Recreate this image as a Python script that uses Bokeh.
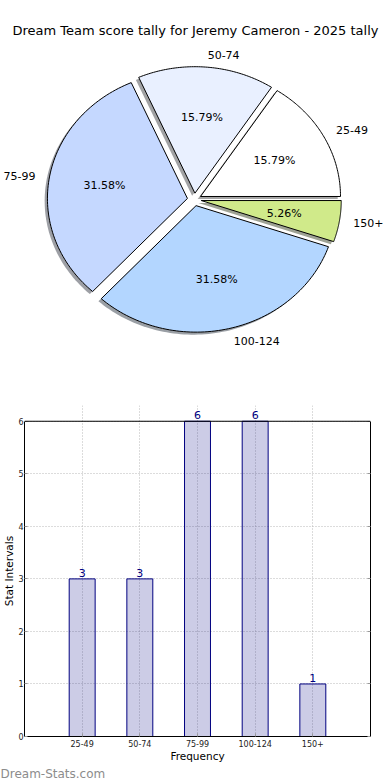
import numpy as np
from bokeh.plotting import figure
from bokeh.models import (ColumnDataSource, Range1d, FactorRange, Label, FixedTicker,
                          LinearAxis, Span, Title)
from bokeh.core.properties import value, field
from bokeh.embed import file_html
from bokeh.resources import INLINE

# ---------------- data ----------------
title_text = "Dream Team score tally for Jeremy Cameron - 2025 tally"
categories = ["25-49", "50-74", "75-99", "100-124", "150+"]
counts = [3, 3, 6, 6, 1]
pie_colors = ["#ffffff", "#e9f0ff", "#c5d8ff", "#b3d6ff", "#d0ea8a"]
y_ticks = [0, 1, 2, 3, 4, 5, 6]
y_max = 6
x_axis_label = "Frequency"
y_axis_label = "Stat Intervals"
watermark = "Dream-Stats.com"

FONT = "DejaVu Sans"
W = 390
PIE_H = 384
BAR_H = 396

# ---------------- pie ----------------
explode = 0.05
cx_px, cy_px = 193.85, 199.0      # pie centre in the canvas
rx_px, ry_px = 140.0, 126.5       # pixels per unit (elliptical pie)

p1 = figure(width=W, height=PIE_H, output_backend="svg", toolbar_location=None,
            title=None,
            x_range=Range1d(-cx_px / rx_px, (W - cx_px) / rx_px),
            y_range=Range1d(-(PIE_H - cy_px) / ry_px, cy_px / ry_px),
            min_border=0, min_border_left=0, min_border_right=0,
            min_border_top=0, min_border_bottom=0)
p1.axis.visible = False
p1.grid.visible = False
p1.outline_line_color = None

total = float(sum(counts))
fr = np.array(counts) / total
cum = np.concatenate([[0.0], np.cumsum(fr)]) * 360.0

xs, ys, fills, falphas, lalphas = [], [], [], [], []
lab_x, lab_y, lab_t, lab_a = [], [], [], []
pct_x, pct_y, pct_t = [], [], []

def hex_to_rgb(h):
    h = h.lstrip("#")
    return tuple(int(h[i:i + 2], 16) for i in (0, 2, 4))

for i, c in enumerate(categories):
    t1, t2 = cum[i], cum[i + 1]
    mid = np.deg2rad((t1 + t2) / 2)
    ox, oy = explode * np.cos(mid), explode * np.sin(mid)
    th = np.deg2rad(np.linspace(t1, t2, 80))
    px = np.concatenate([[ox], ox + np.cos(th), [ox]])
    py = np.concatenate([[oy], oy + np.sin(th), [oy]])
    # shadow
    r, g, b = hex_to_rgb(pie_colors[i])
    xs.append(list(px - 0.02)); ys.append(list(py - 0.02))
    fills.append("#%02x%02x%02x" % (int(r * 0.3), int(g * 0.3), int(b * 0.3)))
    falphas.append(0.5); lalphas.append(0.0)
    # wedge
    xs.append(list(px)); ys.append(list(py))
    fills.append(pie_colors[i]); falphas.append(1.0); lalphas.append(1.0)
    # labels
    lx = ox + 1.1 * np.cos(mid)
    ly = oy + 1.1 * np.sin(mid)
    lab_x.append(lx); lab_y.append(ly); lab_t.append(c)
    lab_a.append("left" if lx > 0 else "right")
    pct_x.append(ox + 0.6 * np.cos(mid)); pct_y.append(oy + 0.6 * np.sin(mid))
    pct_t.append("%1.2f%%" % (fr[i] * 100))

pie_src = ColumnDataSource(dict(xs=xs, ys=ys, fill=fills, fa=falphas, la=lalphas))
p1.patches("xs", "ys", source=pie_src, fill_color="fill", fill_alpha="fa",
           line_color="black", line_alpha="la", line_width=1)

lab_src = ColumnDataSource(dict(x=lab_x, y=lab_y, t=lab_t, a=lab_a))
p1.text("x", "y", text="t", source=lab_src, text_align=field("a"),
        text_baseline="middle", text_font=value(FONT), text_font_size="11px",
        text_color="black")
pct_src = ColumnDataSource(dict(x=pct_x, y=pct_y, t=pct_t))
p1.text("x", "y", text="t", source=pct_src, text_align="center",
        text_baseline="middle", text_font=value(FONT), text_font_size="11px",
        text_color="black")

p1.add_layout(Label(x=(195 - cx_px) / rx_px, y=(cy_px - 30) / ry_px, text=title_text,
                    text_align="center", text_baseline="middle",
                    text_font=FONT, text_font_size="13px", text_color="black"))

# ---------------- bars ----------------
p2 = figure(width=W, height=BAR_H, output_backend="svg", toolbar_location=None,
            title=None,
            x_range=FactorRange(*categories, range_padding=0.5, range_padding_units="absolute"),
            y_range=Range1d(0, 6.3),
            min_border_left=0, min_border_right=20, min_border_top=21, min_border_bottom=38)
bar_src = ColumnDataSource(dict(cat=categories, n=counts))
p2.vbar(x="cat", top="n", width=0.45, source=bar_src, fill_color="#000080",
        fill_alpha=0.2, line_color="#000080", line_width=1)
for i, n in enumerate(counts):
    p2.add_layout(Label(x=i + 0.5, y=n, text=str(n), y_offset=2,
                        text_align="center", text_baseline="bottom", text_font=FONT,
                        text_font_size="11px", text_color="#000080"))

p2.outline_line_color = None
for g in (p2.xgrid, p2.ygrid):
    g.grid_line_color = "#b8b8b8"
    g.grid_line_dash = "1 2"
    g.grid_line_width = 1
p2.xgrid.bounds = (0, y_max)
p2.yaxis.ticker = FixedTicker(ticks=y_ticks)
p2.yaxis.bounds = (0, y_max)
right_axis = LinearAxis(ticker=FixedTicker(ticks=y_ticks), bounds=(0, y_max),
                        major_label_overrides={t: "" for t in y_ticks},
                        major_label_text_color=None, major_label_standoff=0,
                        major_tick_in=3, major_tick_out=0, minor_tick_line_color=None,
                        major_tick_line_color="#999999", axis_line_color="black")
p2.add_layout(right_axis, "right")
p2.add_layout(Span(location=y_max, dimension="width", line_color="black", line_width=1))

for ax in (p2.xaxis, p2.yaxis):
    ax.major_label_text_font = FONT
    ax.major_label_text_font_size = "8px"
    ax.major_label_text_color = "#222222"
    ax.axis_label_text_font = FONT
    ax.axis_label_text_font_size = "10.5px"
    ax.axis_label_text_font_style = "normal"
    ax.axis_label_text_color = "black"
    ax.axis_label_standoff = 0
    ax.major_label_standoff = 3
    ax.major_tick_out = 0
    ax.major_tick_in = 3
    ax.major_tick_line_color = "#999999"
    ax.minor_tick_line_color = None
    ax.axis_line_color = "black"
p2.yaxis[0].major_label_standoff = 1
p2.xaxis.axis_label = x_axis_label
p2.yaxis[0].axis_label = y_axis_label

p2.add_layout(Title(text=watermark, align="left", offset=-24, standoff=0,
                    text_font=FONT, text_font_size="12px", text_font_style="normal",
                    text_color="#8c8c8c"), "below")

open("out.html", "w").write(file_html([p1, p2], INLINE))
